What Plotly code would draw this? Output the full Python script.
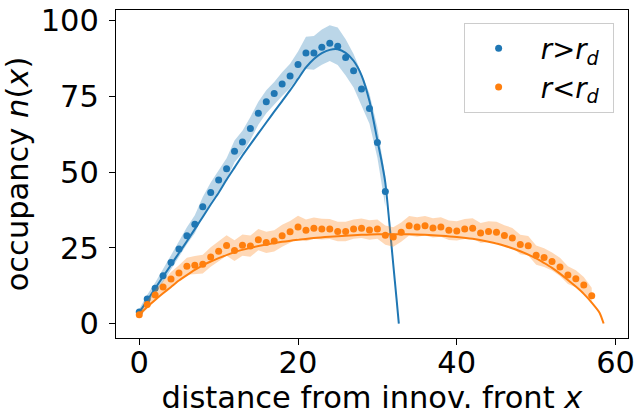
import plotly.graph_objects as go

# ---- data ----
blue_x = list(range(0, 32))
blue_y = [3.8, 8.1, 11.7, 15.8, 20.2, 24.6, 29.0, 32.8, 38.6, 43.3,
          47.4, 51.1, 56.9, 60.0, 64.4, 69.5, 73.3, 76.0, 79.1, 81.8,
          85.6, 89.4, 89.4, 91.3, 92.6, 91.6, 87.9, 83.5, 77.5, 71.0,
          59.8, 43.6]
blue_err = [1.0, 1.4, 1.8, 2.1, 2.4, 2.6, 2.8, 3.0, 3.2, 3.3,
            3.4, 3.5, 3.6, 3.7, 3.8, 3.8, 3.8, 3.8, 3.9, 4.0,
            4.3, 5.3, 5.6, 5.8, 5.9, 6.2, 6.0, 5.5, 5.2, 5.0,
            5.0, 5.0]

orange_x = list(range(0, 58))
orange_y = [2.9, 6.3, 9.4, 12.1, 14.7, 16.7, 18.9, 19.3, 19.6, 22.0,
            23.9, 25.8, 24.1, 25.9, 25.6, 27.7, 26.8, 27.3, 29.0, 30.3,
            31.9, 30.8, 31.5, 31.2, 31.2, 30.4, 30.4, 31.2, 31.5, 30.9,
            31.2, 29.2, 28.6, 30.2, 32.3, 31.9, 32.3, 31.6, 31.9, 30.8,
            30.6, 31.2, 31.5, 29.9, 30.4, 30.2, 29.1, 28.3, 26.1, 25.7,
            22.6, 21.8, 20.5, 18.7, 16.0, 14.8, 12.7, 9.2]
orange_err = [0.8, 1.3, 1.7, 2.0, 2.3, 2.6, 2.8, 3.0, 3.1, 3.2,
              3.3, 3.4, 3.4, 3.5, 3.5, 3.5, 3.5, 3.5, 3.6, 3.6,
              3.7, 3.6, 3.5, 3.4, 3.3, 3.2, 3.2, 3.2, 3.2, 3.2,
              3.2, 3.2, 3.2, 3.2, 3.2, 3.2, 3.2, 3.2, 3.2, 3.2,
              3.2, 3.3, 3.3, 3.3, 3.4, 3.4, 3.4, 3.3, 3.2, 3.2,
              3.2, 3.1, 3.0, 3.0, 2.9, 2.8, 2.7, 2.6]

blue_fit_x = [0, 1, 2, 3, 4, 5, 6, 7, 8, 9, 10, 11, 12, 13, 14, 15, 16, 17, 18, 19,
              20, 21, 22, 23, 24, 25, 26, 27, 28, 29, 30, 30.5, 31, 31.5, 32, 32.4, 32.7]
blue_fit_y = [3.6, 7.6, 11.6, 15.5, 19.4, 23.3, 27.2, 31.2, 35.2, 39.3,
              43.2, 47.5, 51.5, 55.5, 59.2, 62.8, 66.4, 70.0, 73.5, 77.0,
              80.8, 84.6, 87.4, 89.3, 90.4, 90.6, 89.4, 86.8, 82.0, 73.5,
              60.5, 54.0, 46.5, 33.5, 19.5, 8.5, 0.0]

orange_fit_x = [0, 1, 2, 3, 4, 5, 6, 7, 8, 9, 10, 12, 14, 16, 18, 20, 22, 24, 26, 28,
                30, 32, 34, 36, 38, 40, 42, 44, 46, 48, 50, 51, 52, 53, 54, 55, 56, 57, 58, 58.5]
orange_fit_y = [3.0, 5.5, 7.8, 10.0, 12.1, 14.2, 16.0, 17.7, 19.2, 20.5,
                21.6, 23.6, 25.0, 26.1, 27.0, 27.7, 28.3, 28.7, 29.0, 29.3,
                29.5, 29.5, 29.5, 29.3, 29.0, 28.6, 28.0, 27.0, 25.7, 23.9,
                21.5, 20.0, 18.4, 16.5, 14.4, 12.2, 9.8, 6.9, 3.5, 0.0]

x_ticks = [0, 20, 40, 60]
y_ticks = [0, 25, 50, 75, 100]

BLUE = "#1f77b4"
ORANGE = "#ff7f0e"

fig = go.Figure()


def add_series(x, y, err, fx, fy, color, fill, name):
    upper = [a + e for a, e in zip(y, err)]
    lower = [a - e for a, e in zip(y, err)]
    fig.add_trace(go.Scatter(
        x=x + x[::-1], y=upper + lower[::-1], fill="toself",
        fillcolor=fill, line=dict(width=0), mode="lines",
        hoverinfo="skip", showlegend=False))
    fig.add_trace(go.Scatter(
        x=x, y=y, mode="markers", name=name,
        marker=dict(color=color, size=7)))
    fig.add_trace(go.Scatter(
        x=fx, y=fy, mode="lines", showlegend=False,
        line=dict(color=color, width=2, shape="spline", smoothing=0.6)))


LEAD = "&nbsp;"
TRAIL = "&nbsp;"
add_series(blue_x, blue_y, blue_err, blue_fit_x, blue_fit_y, BLUE,
           "rgba(31,119,180,0.3)",
           LEAD + "<i>r</i>&gt;<i>r</i><sub><i>d</i></sub>" + TRAIL)
add_series(orange_x, orange_y, orange_err, orange_fit_x, orange_fit_y, ORANGE,
           "rgba(255,127,14,0.3)",
           LEAD + "<i>r</i>&lt;<i>r</i><sub><i>d</i></sub>" + TRAIL)

FS = 30.5
axis_common = dict(showline=True, mirror=True, linecolor="black", linewidth=1,
                   ticks="outside", ticklen=6, tickwidth=1, tickcolor="black",
                   showgrid=False, zeroline=False, ticklabeloverflow="allow",
                   tickfont=dict(family="DejaVu Sans", size=FS, color="black"))

fig.update_layout(
    width=639, height=419,
    margin=dict(l=116, r=7, t=4, b=81),
    plot_bgcolor="white", paper_bgcolor="white",
    font=dict(family="DejaVu Sans", size=FS, color="black"),
    xaxis=dict(range=[-2.93, 61.57], tickvals=x_ticks, ticklabelstandoff=-9,
               title=dict(text="distance from innov. front <i>x</i>",
                          font=dict(size=FS), standoff=4),
               **axis_common),
    yaxis=dict(range=[-4.77, 103.57], tickvals=y_ticks, ticklabelstandoff=4,
               title=dict(text="occupancy <i>n</i>(<i>x</i>)",
                          font=dict(size=FS), standoff=8),
               **axis_common),
    legend=dict(x=0.9729, y=0.961, xanchor="right", yanchor="top",
                bgcolor="rgba(255,255,255,0.8)", bordercolor="#cccccc",
                borderwidth=1, font=dict(size=27.5), itemwidth=57,
                traceorder="normal"),
)

fig.write_html("out.html")
